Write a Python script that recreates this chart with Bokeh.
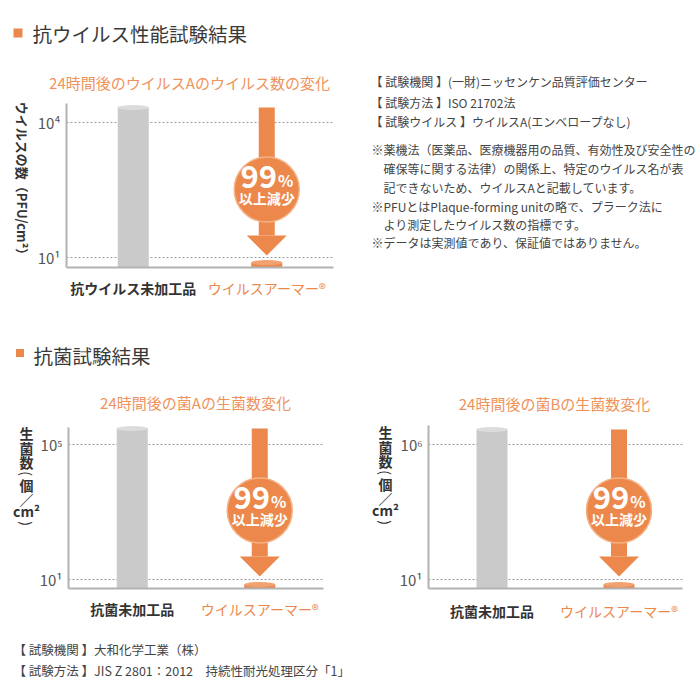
import math
from bokeh.plotting import figure
from bokeh.layouts import column, row
from bokeh.models import Range1d, ColumnDataSource
from bokeh.embed import file_html
from bokeh.resources import INLINE
from bokeh.core.properties import value

FONT = "Noto Sans CJK JP"
ORANGE = "#EC884B"
ORANGE_TITLE = "#EF935B"
ORANGE_RING = "#F4B286"
GREY_BAR = "#CACACA"
GREY_CAP = "#DCDCDC"
AXIS_GREY = "#B2B2B2"
GRID_GREY = "#9C9C9C"
DARK = "#333333"
BODY = "#444444"

# ---------------- data ----------------
heading_virus = "抗ウイルス性能試験結果"
heading_bacteria = "抗菌試験結果"

virus_title = "24時間後のウイルスAのウイルス数の変化"
virus_categories = ["抗ウイルス未加工品", "ウイルスアーマー®"]
virus_counts = [21500, 7.7]
virus_ticks = [10, 10000]
virus_tick_labels = ["10¹", "10⁴"]

bacA_title = "24時間後の菌Aの生菌数変化"
bacA_categories = ["抗菌未加工品", "ウイルスアーマー®"]
bacA_counts = [298000, 7.1]
bacA_ticks = [10, 100000]
bacA_tick_labels = ["10¹", "10⁵"]

bacB_title = "24時間後の菌Bの生菌数変化"
bacB_categories = ["抗菌未加工品", "ウイルスアーマー®"]
bacB_counts = [3600000, 6.5]
bacB_ticks = [10, 1000000]
bacB_tick_labels = ["10¹", "10⁶"]

reduction_value = "99"
reduction_unit = "%"
reduction_text = "以上減少"

virus_ylabel = "ウイルスの数（PFU/cm²）"
bac_ylabel_chars = ["生", "菌", "数", "個", "／", "cm²"]
bac_ylabel_offsets = [0, 15, 29, 52, 66, 78]
bac_ylabel_parens = ["(", ")"]
bac_ylabel_paren_offsets = [41, 91]

virus_notes_head = [
    "【 試験機関 】(一財)ニッセンケン品質評価センター",
    "【 試験方法 】ISO 21702法",
    "【 試験ウイルス 】ウイルスA(エンベロープなし)",
]
virus_notes = [
    "※薬機法（医薬品、医療機器用の品質、有効性及び安全性の",
    "　確保等に関する法律）の関係上、特定のウイルス名が表",
    "　記できないため、ウイルスAと記載しています。",
    "※PFUとはPlaque-forming unitの略で、プラーク法に",
    "　より測定したウイルス数の指標です。",
    "※データは実測値であり、保証値ではありません。",
]
bacteria_notes = [
    "【 試験機関 】大和化学工業（株）",
    "【 試験方法 】JIS Z 2801：2012　持続性耐光処理区分「1」",
]


def text_fig(w, h):
    p = figure(width=w, height=h, x_range=Range1d(0, w), y_range=Range1d(0, h),
               x_axis_location=None, y_axis_location=None, output_backend="svg",
               toolbar_location=None, min_border=0,
               background_fill_color="white", border_fill_color="white")
    p.grid.visible = False
    p.outline_line_color = None
    return p


def heading_fig(w, h, text, sq_x, sq_y, sq_size, tx, ty):
    p = text_fig(w, h)
    p.scatter(x=[sq_x], y=[sq_y], marker="square", size=sq_size,
              fill_color=ORANGE, line_color=None)
    p.text(x=[tx], y=[ty], text=[text], text_font=value(FONT),
           text_font_size="19.5px", text_color="#3A3A3A",
           text_align="left", text_baseline="middle")
    return p


def make_chart(title, cats, counts, ticks, tick_labels, y_lo, y_hi,
               fig_w, fig_h, ax_box, title_px, cat_py, ylabel):
    """ax_box = (left, right, top, bottom) of the plotting area in figure pixels (from top-left)."""
    axL, axR, axT, axB = ax_box
    Wa, Ha = axR - axL, axB - axT
    xpp = 2.0 / Wa
    llo, lhi = math.log10(y_lo), math.log10(y_hi)
    dpp = (lhi - llo) / Ha

    def X(px):
        return (px - axL) * xpp

    def Y(py):
        return 10 ** (llo + (axB - py) * dpp)

    p = figure(width=fig_w, height=fig_h,
               x_range=Range1d(X(0), X(fig_w)), y_range=Range1d(Y(fig_h), Y(0)),
               y_axis_type="log", x_axis_location=None, y_axis_location=None,
               output_backend="svg", toolbar_location=None, min_border=0,
               background_fill_color="white", border_fill_color="white")
    p.grid.visible = False
    p.outline_line_color = None

    # dotted grid lines at the ticks
    n = len(ticks)
    p.segment(x0=[0] * n, y0=ticks, x1=[2] * n, y1=ticks, line_color=GRID_GREY,
              line_width=1, line_dash="2 2")
    # tick labels
    p.text(x=[0] * n, y=ticks, text=tick_labels, x_offset=-6,
           text_font=value(FONT), text_font_size="15px", text_color="#555555",
           text_align="right", text_baseline="middle")

    xs = [0.5, 1.5]
    bar_w = 31 * xpp
    src = ColumnDataSource(dict(x=xs, top=counts, fill=[GREY_BAR, ORANGE],
                                cap=[GREY_CAP, "#F2A270"]))
    p.vbar(x="x", top="top", bottom=y_lo, width=bar_w, fill_color="fill",
           line_color=None, source=src)
    p.ellipse(x="x", y="top", width=bar_w, height=5, height_units="screen",
              fill_color="cap", line_color=None, source=src)

    # axis lines
    p.segment(x0=[0, 0], y0=[y_lo, y_lo], x1=[0, 2], y1=[y_hi, y_lo],
              line_color=AXIS_GREY, line_width=2)

    # reduction arrow: from the untreated value down to the treated bar
    xa = xs[1]
    tip = Y(axB - 12)
    head_top = Y(axB - 32)
    center = Y(axB - 78)
    p.segment(x0=[xa], y0=[counts[0]], x1=[xa], y1=[head_top],
              line_width=16, line_color=ORANGE, line_cap="butt")
    p.patch(x=[xa - 20 * xpp, xa + 20 * xpp, xa], y=[head_top, head_top, tip],
            fill_color=ORANGE, line_color=None)
    p.scatter(x=[xa], y=[center], marker="circle", size=65,
              fill_color=ORANGE, line_color=ORANGE_RING, line_width=1.5)
    p.text(x=[xa], y=[center], text=[reduction_value], x_offset=-8, y_offset=-13,
           text_font=value(FONT), text_font_size="31px", text_font_style="bold",
           text_color="white", text_align="center", text_baseline="middle")
    p.text(x=[xa], y=[center], text=[reduction_unit], x_offset=19, y_offset=-10,
           text_font=value(FONT), text_font_size="16px", text_font_style="bold",
           text_color="white", text_align="center", text_baseline="middle")
    p.text(x=[xa], y=[center], text=[reduction_text], x_offset=0, y_offset=8,
           text_font=value(FONT), text_font_size="14px", text_font_style="bold",
           text_color="white", text_align="center", text_baseline="middle")

    # chart title
    p.text(x=[X(title_px[0])], y=[Y(title_px[1])], text=[title],
           text_font=value(FONT), text_font_size="15px", text_color=ORANGE_TITLE,
           text_align="center", text_baseline="middle")

    # category labels
    csrc = ColumnDataSource(dict(x=xs, y=[Y(cat_py)] * 2, text=cats,
                                 color=[DARK, ORANGE], style=["bold", "normal"]))
    p.text(x="x", y="y", text="text", text_color="color", text_font_style="style",
           text_font=value(FONT), text_font_size="14px", text_align="center",
           text_baseline="middle", source=csrc)

    # y-axis label
    kind = ylabel[0]
    if kind == "rotated":
        _, txt, lx, ly = ylabel
        p.text(x=[X(lx)], y=[Y(ly)], text=[txt], angle=-math.pi / 2,
               text_font=value(FONT), text_font_size="13px", text_font_style="bold",
               text_color=DARK, text_align="center", text_baseline="middle")
    else:
        _, chars, offsets, parens, poffsets, lx, top = ylabel
        p.text(x=[X(lx)] * len(chars), y=[Y(top + o) for o in offsets], text=chars,
               text_font=value(FONT), text_font_size="14px", text_font_style="bold",
               text_color=DARK, text_align="center", text_baseline="middle")
        p.text(x=[X(lx)] * len(parens), y=[Y(top + o) for o in poffsets], text=parens,
               angle=-math.pi / 2, text_font=value(FONT), text_font_size="14px",
               text_color=DARK, text_align="center", text_baseline="middle")
    return p


# ---- headings ----
h1 = heading_fig(700, 55, heading_virus, 17.5, 22.5, 9, 32, 22)
h2 = heading_fig(700, 70, heading_bacteria, 19.5, 22.5, 8, 33, 20)

# ---- chart A (image area x 0-350, y 55-305) ----
chartA = make_chart(virus_title, virus_categories, virus_counts, virus_ticks,
                    virus_tick_labels, 6.0, 26400, 350, 250,
                    (66, 333, 48, 212), (189, 27), 232,
                    ("rotated", virus_ylabel, 22, 126))

# ---- top right notes (image area x 350-700, y 55-305) ----
notes = text_fig(350, 250)
head_y = [305 - v for v in (81, 102, 121)]
note_y = [305 - v for v in (149, 168, 187, 206, 224, 242)]
notes.text(x=[20] * 3, y=head_y, text=virus_notes_head, text_font=value(FONT),
           text_font_size="12px", text_color=BODY, text_align="left",
           text_baseline="middle")
notes.text(x=[21] * 6, y=note_y, text=virus_notes, text_font=value(FONT),
           text_font_size="12px", text_color=BODY, text_align="left",
           text_baseline="middle")

# ---- chart B / C (image area y 375-630) ----
chartB = make_chart(bacA_title, bacA_categories, bacA_counts, bacA_ticks,
                    bacA_tick_labels, 5.4, 319000, 350, 255,
                    (68, 323, 52, 213), (195, 27), 233,
                    ("stack", bac_ylabel_chars, bac_ylabel_offsets,
                     bac_ylabel_parens, bac_ylabel_paren_offsets, 26, 57))
chartC = make_chart(bacB_title, bacB_categories, bacB_counts, bacB_ticks,
                    bacB_tick_labels, 4.64, 5.06e6, 350, 255,
                    (78, 332, 50, 213), (204, 28), 235,
                    ("stack", bac_ylabel_chars, bac_ylabel_offsets,
                     bac_ylabel_parens, bac_ylabel_paren_offsets, 35, 56))

# ---- bottom notes (image area y 630-698) ----
bottom = text_fig(700, 68)
bottom.text(x=[13, 13], y=[49, 28], text=bacteria_notes, text_font=value(FONT),
            text_font_size="12.5px", text_color=BODY, text_align="left",
            text_baseline="middle")

layout = column(h1, row(chartA, notes), h2, row(chartB, chartC), bottom)

open("out.html", "w").write(file_html(layout, INLINE))
